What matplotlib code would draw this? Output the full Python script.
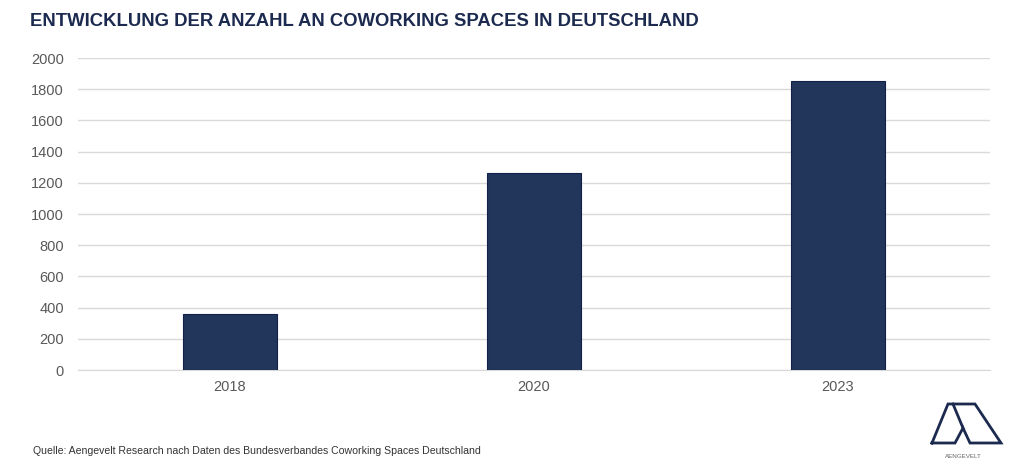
import matplotlib.pyplot as plt
from matplotlib.lines import Line2D

plt.rcParams['font.family'] = ['Liberation Sans', 'DejaVu Sans']

# Data
years = ['2018', '2020', '2023']
spaces = [360, 1265, 1850]
y_ticks = list(range(0, 2001, 200))

navy = '#21365a'
title_col = '#1b2a4e'
grid_col = '#d9d9d9'
text_col = '#595959'

fig = plt.figure(figsize=(10.24, 4.66), dpi=100)
ax = fig.add_axes([78 / 1024, 96 / 466, 912 / 1024, 312 / 466])

ax.bar(years, spaces, width=0.31, color=navy, edgecolor='#13214a', linewidth=0.8, zorder=3)
ax.set_xlim(-0.5, 2.5)
ax.set_ylim(0, 2000)
ax.set_yticks(y_ticks)
ax.yaxis.grid(True, color=grid_col, linewidth=1, zorder=0)
for s in ['top', 'right', 'left']:
    ax.spines[s].set_visible(False)
ax.spines['bottom'].set_color(grid_col)
ax.tick_params(axis='both', length=0, labelsize=10.5, labelcolor=text_col)
ax.tick_params(axis='y', pad=10)
ax.tick_params(axis='x', pad=7)

fig.text(30 / 1024, 1 - 22 / 466, 'ENTWICKLUNG DER ANZAHL AN COWORKING SPACES IN DEUTSCHLAND',
         fontsize=13.3, fontweight='bold', color=title_col, va='center', ha='left')
fig.text(33 / 1024, 1 - 451 / 466,
         'Quelle: Aengevelt Research nach Daten des Bundesverbandes Coworking Spaces Deutschland',
         fontsize=7.6, color='#333333', va='center', ha='left')

# logo (rough outline)
def px(x, y):
    return x / 1024, 1 - y / 466

logo_paths = [
    [(932, 443), (948, 404), (975, 404), (1001, 443), (970, 443), (963, 428), (955, 443), (932, 443)],
    [(953, 404), (963, 428)],
]
for path in logo_paths:
    xs, ys = zip(*[px(x, y) for x, y in path])
    fig.add_artist(Line2D(xs, ys, color=title_col, linewidth=2, solid_joinstyle='miter'))
fig.text(963 / 1024, 1 - 457 / 466, 'AENGEVELT', fontsize=4.5, color='#666666', ha='center', va='center')

fig.savefig('out.png', dpi=100)
